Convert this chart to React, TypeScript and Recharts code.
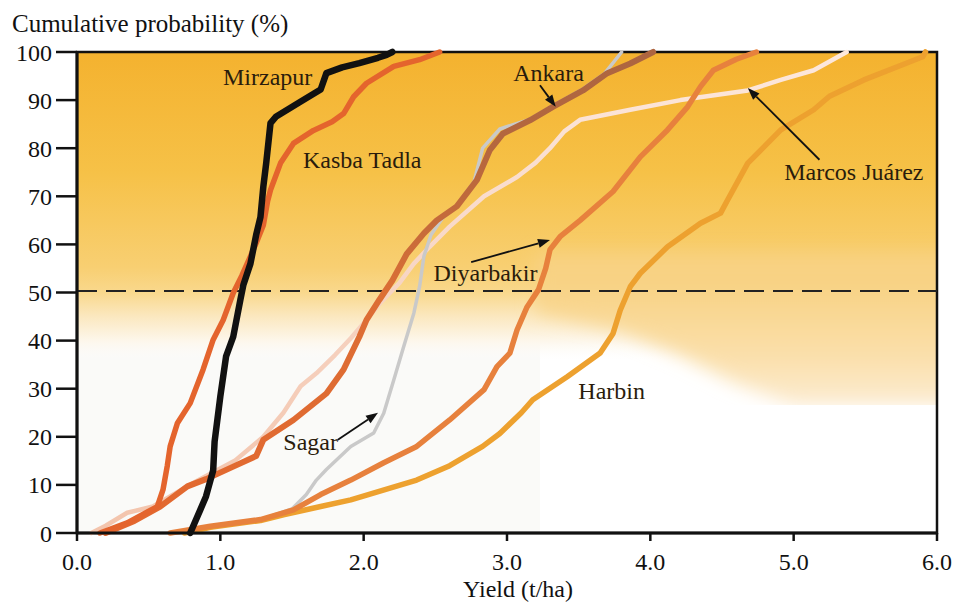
import React from "react";
import {
  LineChart,
  Line,
  XAxis,
  YAxis,
  ReferenceLine,
  ReferenceArea,
  ReferenceDot,
} from "recharts";

const SERIF = "'Liberation Serif', 'Times New Roman', Times, 'DejaVu Serif', serif";

const YIELD_TICKS = [0, 1, 2, 3, 4, 5, 6];
const PROB_TICKS = [0, 10, 20, 30, 40, 50, 60, 70, 80, 90, 100];
const MEDIAN = 50.3;

// [yield t/ha, cumulative %]
const mirzapur = [
  [0.79, 0], [0.86, 4.8], [0.9, 7.6], [0.95, 13], [0.96, 19], [1.0, 28.4],
  [1.04, 36.7], [1.09, 40.8], [1.14, 48.5], [1.16, 51.5], [1.21, 56], [1.25, 62],
  [1.28, 65.7], [1.3, 72], [1.32, 76.9], [1.35, 85.2], [1.39, 86.6], [1.55, 89.5],
  [1.7, 92.2], [1.74, 95.6], [1.85, 96.8], [1.97, 97.7], [2.1, 98.8], [2.16, 99.4],
  [2.2, 100],
];

const kasbaTadla = [
  [0.16, 0], [0.35, 2.1], [0.56, 5.5], [0.6, 9], [0.63, 14], [0.65, 18], [0.7, 22.8],
  [0.79, 27], [0.88, 34], [0.95, 40.2], [1.02, 44.3], [1.09, 49.9], [1.15, 53.5],
  [1.21, 57.5], [1.26, 61], [1.3, 64], [1.33, 69], [1.35, 71.3], [1.42, 76.9],
  [1.51, 81], [1.65, 83.7], [1.78, 85.5], [1.86, 87.2], [1.93, 90.7], [2.02, 93.5],
  [2.21, 97], [2.39, 98.4], [2.53, 100],
];

const ankara = [
  [0.2, 0], [0.4, 2.5], [0.58, 5.5], [0.77, 9.7], [0.9, 11.2], [1.09, 13.8],
  [1.25, 16], [1.3, 19.4], [1.51, 23.5], [1.74, 29], [1.86, 34], [1.97, 40.8],
  [2.02, 44.3], [2.11, 48.5], [2.2, 52.5], [2.3, 58], [2.42, 62.3], [2.51, 65],
  [2.65, 67.9], [2.79, 73.4], [2.88, 79.6], [2.97, 83], [3.16, 85.8], [3.32, 88.6],
  [3.53, 92], [3.7, 95.6], [3.86, 97.6], [4.02, 100],
];

const marcosJuarez = [
  [0.1, 0], [0.2, 1.5], [0.35, 4.2], [0.53, 5.5], [0.81, 10.4], [1.1, 15], [1.3, 20],
  [1.44, 25], [1.56, 30.5], [1.67, 33.2], [1.8, 37], [1.91, 40.5], [2.0, 43.6],
  [2.12, 48], [2.25, 52], [2.35, 56], [2.46, 59.5], [2.6, 63.7], [2.84, 70],
  [3.07, 74], [3.2, 77], [3.3, 80], [3.4, 83.5], [3.51, 85.9], [3.86, 88], [4.21, 90],
  [4.68, 92], [4.91, 94.2], [5.14, 96.2], [5.37, 100],
];

const sagar = [
  [0.75, 0], [1.0, 1.5], [1.3, 3], [1.5, 5], [1.6, 8], [1.67, 11], [1.74, 13.2],
  [1.91, 18], [2.07, 20.8], [2.14, 24.9], [2.21, 31.8], [2.28, 38.8], [2.35, 45.7],
  [2.39, 51.2], [2.42, 57.5], [2.47, 62], [2.55, 65.5], [2.65, 68], [2.77, 73],
  [2.83, 80], [2.95, 84], [3.16, 86], [3.32, 88.8], [3.53, 92.3], [3.68, 95.5],
  [3.8, 100],
];

const diyarbakir = [
  [0.65, 0], [0.93, 1.4], [1.28, 2.8], [1.51, 4.8], [1.7, 8], [1.91, 11], [2.14, 14.6],
  [2.37, 18], [2.6, 23.5], [2.84, 29.8], [2.93, 34.6], [3.02, 37.4], [3.07, 42.2],
  [3.14, 47], [3.22, 50.6], [3.27, 55], [3.3, 58.9], [3.37, 61.6], [3.51, 65],
  [3.74, 71], [3.93, 78.2], [4.12, 83.8], [4.26, 88.6], [4.35, 92.8], [4.44, 96.2],
  [4.6, 98.5], [4.74, 100],
];

const harbin = [
  [0.75, 0], [0.93, 1.2], [1.28, 2.6], [1.44, 3.8], [1.7, 5.5], [1.91, 6.9], [2.37, 11],
  [2.6, 14], [2.83, 18], [2.95, 20.7], [3.1, 25], [3.18, 27.7], [3.42, 32.5],
  [3.65, 37.4], [3.74, 41.5], [3.79, 46.3], [3.86, 51.2], [3.93, 54], [4.12, 59.5],
  [4.35, 64.4], [4.49, 66.5], [4.54, 69.3], [4.68, 76.9], [4.91, 83.8], [5.14, 88],
  [5.25, 90.8], [5.49, 94.2], [5.79, 97.7], [5.9, 99], [5.92, 100],
];

const toPoints = (arr: number[][]) => arr.map(([x, y]) => ({ x, y }));

// drawn back to front
const SERIES = [
  { name: "Marcos Juárez", data: marcosJuarez, stroke: "url(#marcosGrad)", width: 4.5 },
  { name: "Sagar", data: sagar, stroke: "#c9c9c9", width: 3.5 },
  { name: "Harbin", data: harbin, stroke: "#eda12f", width: 5.5 },
  { name: "Diyarbakir", data: diyarbakir, stroke: "#e7813d", width: 5.5 },
  { name: "Ankara", data: ankara, stroke: "url(#ankaraGrad)", width: 6 },
  { name: "Kasba Tadla", data: kasbaTadla, stroke: "#e4642d", width: 5.5 },
  { name: "Mirzapur", data: mirzapur, stroke: "#111111", width: 6.5 },
];

const LABELS = [
  { text: "Mirzapur", x: 1.33, y: 95.0 },
  { text: "Kasba Tadla", x: 1.99, y: 77.6 },
  { text: "Ankara", x: 3.29, y: 95.8 },
  { text: "Diyarbakir", x: 2.85, y: 54.1 },
  { text: "Marcos Juárez", x: 5.42, y: 75.1 },
  { text: "Sagar", x: 1.63, y: 19.0 },
  { text: "Harbin", x: 3.73, y: 29.6 },
];

const ARROWS = [
  { from: [3.23, 93.1], to: [3.34, 88.6] },
  { from: [2.75, 56.3], to: [3.3, 60.9] },
  { from: [5.18, 77.6], to: [4.68, 92.5] },
  { from: [1.82, 19.4], to: [2.1, 25.0] },
];

const Arrow = (p: any) => {
  const { x1, y1, x2, y2 } = p;
  const a = Math.atan2(y2 - y1, x2 - x1);
  const L = 12;
  const W = 4.5;
  const bx = x2 - L * Math.cos(a);
  const by = y2 - L * Math.sin(a);
  const pts = `${x2},${y2} ${bx + W * Math.sin(a)},${by - W * Math.cos(a)} ${bx - W * Math.sin(a)},${by + W * Math.cos(a)}`;
  return (
    <g>
      <line x1={x1} y1={y1} x2={bx} y2={by} stroke="#111" strokeWidth={1.8} />
      <polygon points={pts} fill="#111" />
    </g>
  );
};

// soft orange wash behind the curves
const Background = (p: any) => {
  const { x, y, width, height } = p;
  const px = (v: number) => x + (v / 6) * width;
  const py = (v: number) => y + ((100 - v) / 100) * height;
  const tongue = [
    [3.2, 58], [6.3, 58], [6.3, 26.6], [5.0, 26.6], [4.6, 31], [4.2, 37], [3.8, 42], [3.2, 46],
  ]
    .map(([a, b]) => `${px(a)},${py(b)}`)
    .join(" ");
  return (
    <g>
      <defs>
        <clipPath id="plotClip">
          <rect x={x} y={y} width={width} height={height} />
        </clipPath>
        <linearGradient id="bgMain" gradientUnits="userSpaceOnUse" x1={0} y1={py(100)} x2={0} y2={py(36)}>
          <stop offset="0" stopColor="#f4b22f" />
          <stop offset="0.39" stopColor="#f6c147" />
          <stop offset="0.7" stopColor="#f8cf72" />
          <stop offset="0.78" stopColor="#f9d88c" />
          <stop offset="0.86" stopColor="#fbe8c0" />
          <stop offset="0.94" stopColor="#fdf7ec" />
          <stop offset="1" stopColor="#fdfcfa" stopOpacity={0} />
        </linearGradient>
        <linearGradient id="bgTongue" gradientUnits="userSpaceOnUse" x1={0} y1={py(52)} x2={0} y2={py(27)}>
          <stop offset="0" stopColor="#f8d283" />
          <stop offset="0.6" stopColor="#fadfaa" />
          <stop offset="1" stopColor="#fcebd0" />
        </linearGradient>
        <filter id="soft" x="-20%" y="-20%" width="140%" height="140%">
          <feGaussianBlur stdDeviation="9" />
        </filter>
      </defs>
      <g clipPath="url(#plotClip)">
        <rect x={x} y={y} width={width} height={height} fill="#ffffff" />
        <rect x={x} y={py(45)} width={px(3.23) - x} height={py(0) - py(45)} fill="#fafaf8" />
        <rect x={x} y={py(100)} width={width} height={py(36) - py(100)} fill="url(#bgMain)" />
        <polygon points={tongue} fill="url(#bgTongue)" filter="url(#soft)" />
        <rect x={px(3.23)} y={py(26.6)} width={px(6) - px(3.23)} height={py(0) - py(26.6)} fill="#ffffff" />
      </g>
    </g>
  );
};

const App = () => {
  return (
    <div style={{ position: "absolute", left: 0, top: 0, width: 954, height: 602, fontFamily: SERIF, background: "#fff" }}>
      <LineChart width={954} height={602} margin={{ top: 52, right: 17, bottom: 0, left: 0 }} style={{ fontFamily: SERIF }}>
        <defs>
          <linearGradient id="ankaraGrad" x1="0" y1="1" x2="0" y2="0">
            <stop offset="0" stopColor="#e3682f" />
            <stop offset="0.5" stopColor="#dc6e35" />
            <stop offset="0.62" stopColor="#c86b3a" />
            <stop offset="0.8" stopColor="#b5673e" />
            <stop offset="1" stopColor="#ad6540" />
          </linearGradient>
          <linearGradient id="marcosGrad" x1="0" y1="1" x2="0" y2="0">
            <stop offset="0" stopColor="#f3c4ac" />
            <stop offset="0.45" stopColor="#f6d2c0" />
            <stop offset="1" stopColor="#fde8dc" />
          </linearGradient>
        </defs>
        <ReferenceArea x1={0} x2={6} y1={0} y2={100} shape={Background} />
        <XAxis
          type="number"
          dataKey="x"
          domain={[0, 6]}
          ticks={YIELD_TICKS}
          tickFormatter={(v: number) => v.toFixed(1)}
          height={69}
          tickSize={8}
          tickMargin={12}
          tick={{ fill: "#111", fontSize: 24, fontFamily: SERIF }}
          tickLine={{ stroke: "#111", strokeWidth: 2.5 }}
          axisLine={{ stroke: "#111", strokeWidth: 3 }}
        />
        <YAxis
          type="number"
          domain={[0, 100]}
          ticks={PROB_TICKS}
          width={77}
          tickSize={21}
          tickMargin={4}
          tick={{ fill: "#111", fontSize: 24, fontFamily: SERIF }}
          tickLine={{ stroke: "#111", strokeWidth: 2.5 }}
          axisLine={{ stroke: "#111", strokeWidth: 3 }}
        />
        <ReferenceLine y={MEDIAN} stroke="#222" strokeWidth={2} strokeDasharray="20 9" />
        {SERIES.map((s) => (
          <Line
            key={s.name}
            name={s.name}
            data={toPoints(s.data)}
            dataKey="y"
            type="linear"
            stroke={s.stroke}
            strokeWidth={s.width}
            strokeLinejoin="round"
            strokeLinecap="round"
            dot={false}
            activeDot={false}
            isAnimationActive={false}
          />
        ))}
        {ARROWS.map((a, i) => (
          <ReferenceLine
            key={`arrow-${i}`}
            segment={[
              { x: a.from[0], y: a.from[1] },
              { x: a.to[0], y: a.to[1] },
            ]}
            shape={Arrow}
          />
        ))}
        {LABELS.map((l) => (
          <ReferenceDot
            key={l.text}
            x={l.x}
            y={l.y}
            r={1}
            fill="none"
            stroke="none"
            label={{ value: l.text, position: "center", fill: "#2a1c0c", fontSize: 24, fontFamily: SERIF }}
          />
        ))}
        <ReferenceArea x1={0} x2={6} y1={0} y2={100} fill="none" fillOpacity={0} stroke="#111" strokeWidth={2.5} />
      </LineChart>
      <div style={{ position: "absolute", left: 12, top: 11, fontSize: 25, lineHeight: "25px", color: "#111", whiteSpace: "nowrap", fontFamily: SERIF }}>
        Cumulative probability (%)
      </div>
      <div style={{ position: "absolute", left: 418, width: 200, top: 577, fontSize: 24, lineHeight: "24px", color: "#111", textAlign: "center", fontFamily: SERIF }}>
        Yield (t/ha)
      </div>
    </div>
  );
};

export default App;
